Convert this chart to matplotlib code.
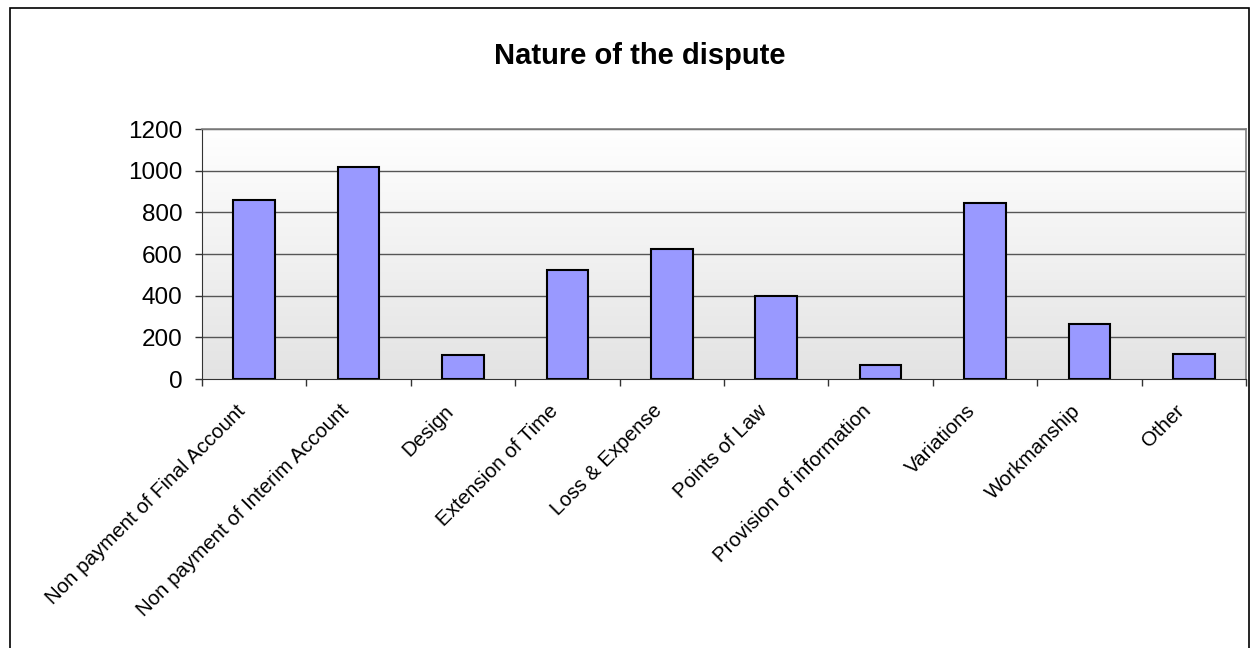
import matplotlib
matplotlib.use("Agg")
import matplotlib.pyplot as plt
import matplotlib.transforms as mtransforms
from matplotlib.patches import Rectangle
import numpy as np

categories = ["Non payment of Final Account", "Non payment of Interim Account", "Design",
              "Extension of Time", "Loss & Expense", "Points of Law",
              "Provision of information", "Variations", "Workmanship", "Other"]
values = [860, 1018, 116, 525, 622, 398, 69, 843, 263, 120]
yticks = [0, 200, 400, 600, 800, 1000, 1200]

plt.rcParams['font.family'] = ['Liberation Sans', 'DejaVu Sans']

W, H = 1252, 648
fig = plt.figure(figsize=(W / 100, H / 100), dpi=100)
fig.patch.set_facecolor('white')

# outer chart border
fig.add_artist(Rectangle((10 / W, -0.05), (1249 - 10) / W, 1.05 - 8 / H,
                         transform=fig.transFigure, fill=False, edgecolor='black', lw=1.2))

ax = fig.add_axes([202 / W, 1 - 379 / H, (1246 - 202) / W, (379 - 129) / H])
n = len(categories)
x = np.arange(n)
ax.set_xlim(-0.5, n - 0.5)
ax.set_ylim(0, 1200)

# gradient background
grad = np.linspace(1.0, 0.0, 256).reshape(-1, 1)
top = np.array([1.0, 1.0, 1.0])
bot = np.array([0.89, 0.89, 0.89])
img = (bot + (top - bot) * grad).reshape(256, 1, 3)
ax.imshow(img, extent=(-0.5, n - 0.5, 0, 1200), aspect='auto', origin='upper', zorder=0)

for yv in yticks[1:]:
    ax.axhline(yv, color='#555555', lw=1.0, zorder=1)

ax.bar(x, values, width=0.4, color='#9999FF', edgecolor='black', linewidth=1.5, zorder=3)

ax.set_yticks(yticks)
ax.set_yticklabels([str(v) for v in yticks], fontsize=17.5)
ax.tick_params(axis='y', length=5, width=1, pad=9, color='#333333')

ax.set_xticks(x)
ax.set_xticklabels(categories, fontsize=14.8, rotation=45, ha='right', rotation_mode='anchor')
ax.tick_params(axis='x', which='major', length=0, pad=16)
ax.set_xticks(np.arange(n + 1) - 0.5, minor=True)
ax.tick_params(axis='x', which='minor', length=5, width=1, color='#333333', direction='out')

offset = mtransforms.ScaledTranslation(-19 / 100, 0, fig.dpi_scale_trans)
for lab in ax.get_xticklabels():
    lab.set_transform(lab.get_transform() + offset)

for s in ['top', 'right']:
    ax.spines[s].set_color('#808080')
    ax.spines[s].set_linewidth(1.2)
ax.spines['left'].set_color('#333333')
ax.spines['bottom'].set_color('#333333')

fig.text(640 / W, 1 - 56 / H, "Nature of the dispute", ha='center', va='center',
         fontsize=21, fontweight='bold')

fig.savefig("out.png", dpi=100)
